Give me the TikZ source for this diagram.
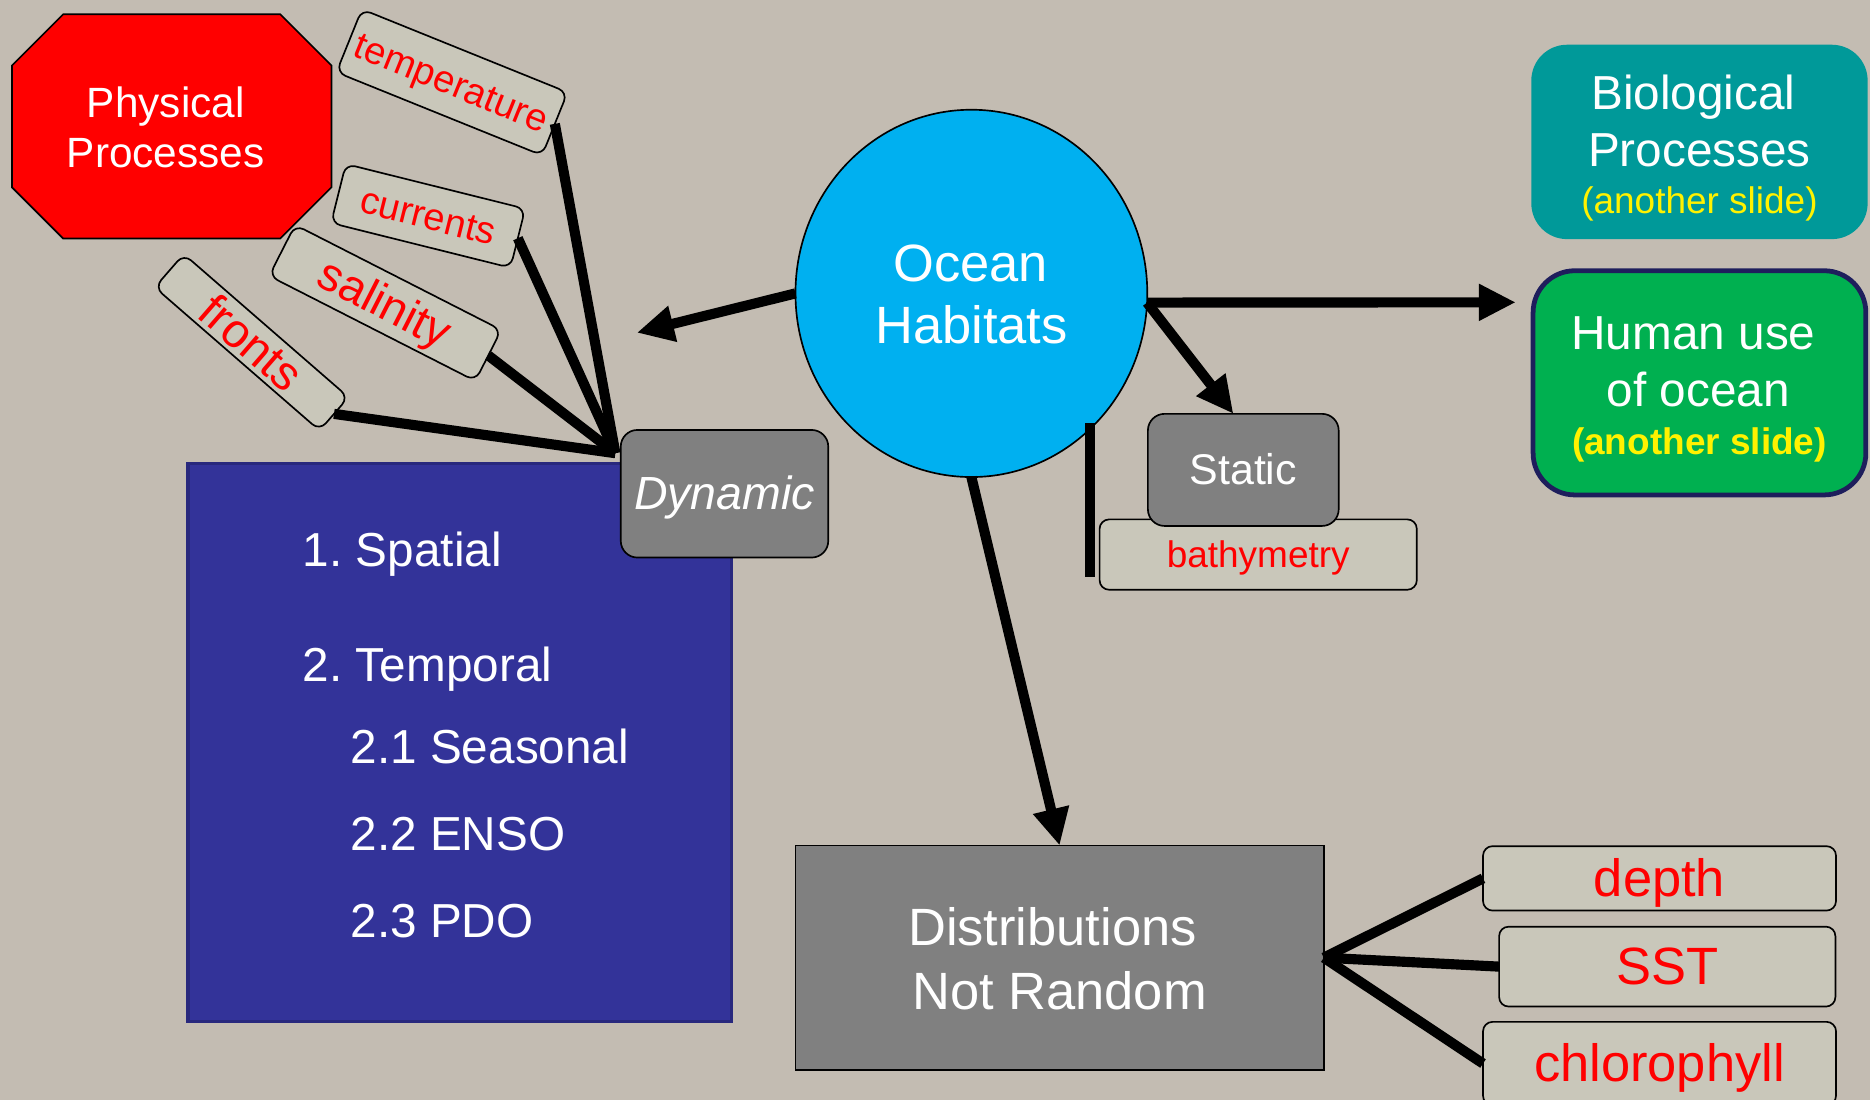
\documentclass[tikz,border=0pt]{standalone}
\usepackage{fontspec}
\setmainfont{Liberation Sans}
\usetikzlibrary{arrows.meta,shapes.geometric}
\frenchspacing

\definecolor{bgc}{RGB}{195,188,178}
\definecolor{tagfill}{RGB}{201,199,186}
\definecolor{slate}{RGB}{128,128,128}
\definecolor{navybox}{RGB}{51,51,153}
\definecolor{navyedge}{RGB}{40,40,125}
\definecolor{oceanblue}{RGB}{0,176,240}
\definecolor{tealbox}{RGB}{0,153,153}
\definecolor{greenbox}{RGB}{0,176,80}
\definecolor{greenedge}{RGB}{30,30,92}

\begin{document}
\begin{tikzpicture}[x=1pt,y=-1pt,
  every node/.style={inner sep=0pt, outer sep=0pt},
  fs/.style={font=\fontsize{#1}{#1}\selectfont, text height=#1*0.9pt, text depth=#1*0.21pt},
  tag/.style={draw=black, line width=1.4pt, fill=tagfill, rounded corners=8pt, text=red},
  greybox/.style={draw=black, line width=1.4pt, fill=slate, text=white},
  wtxt/.style={text=white},
  link/.style={line width=8.5pt},
  arr/.style={line width=8.5pt, -{Triangle[length=31pt,width=29pt]}}]

% canvas
\useasboundingbox (0,0) rectangle (1568,922);
\clip (0,0) rectangle (1568,922);
\fill[bgc] (0,0) rectangle (1568,922);

% physical processes octagon
\filldraw[fill=red, draw=black, line width=1.4pt]
  (53,12) -- (235,12) -- (278,55) -- (278,157) -- (235,200) -- (53,200) -- (10,157) -- (10,55) -- cycle;
\node[wtxt, fs=35.5] (phys1) at (139,86) {Physical};
\node[wtxt, fs=35.5] (phys2) at (139,128) {Processes};

% physical variables
\node[tag, rotate=-22, minimum width=186pt, minimum height=57pt, fs=32] (temp) at (379,69) {temperature};
\node[tag, rotate=-14, minimum width=155pt, minimum height=51pt, fs=32] (curr) at (359,181) {currents};
\node[tag, rotate=-27, minimum width=194pt, minimum height=48pt, fs=39] (sal) at (323,254) {salinity};
\node[tag, rotate=-41, minimum width=183pt, minimum height=37pt, font=\fontsize{40}{40}\selectfont] (fro) at (211,287) {fronts};

% dynamic / spatial-temporal panel
\node[fill=navybox, draw=navyedge, line width=3pt, minimum width=456pt, minimum height=468pt] (panel) at (385.5,622.5) {};
\node[wtxt, fs=40, anchor=west] (sp) at (254,461) {1. Spatial};
\node[wtxt, fs=40, anchor=west] (tm) at (254,558) {2. Temporal};
\node[wtxt, fs=40, anchor=west] (se) at (294,626) {2.1 Seasonal};
\node[wtxt, fs=40, anchor=west] (en) at (294,699) {2.2 ENSO};
\node[wtxt, fs=40, anchor=west] (pd) at (294,772) {2.3 PDO};

\coordinate (hub) at (516,380);
\draw[link] (temp.east) -- (hub);
\draw[link] (curr.east) -- (hub);
\draw[link] (sal.east) -- (hub);
\draw[link] (fro.east) -- (hub);

\node[greybox, rounded corners=14pt, minimum width=174pt, minimum height=107pt, fs=39,
      font=\fontsize{39}{39}\selectfont\itshape] (dyn) at (607.5,414) {Dynamic};

% ocean habitats hub
\node[ellipse, fill=oceanblue, draw=black, line width=1.4pt, minimum width=295pt, minimum height=308pt] (oh) at (814.5,246) {};
\node[wtxt, fs=44] (oh1) at (814,221) {Ocean};
\node[wtxt, fs=44] (oh2) at (814.5,273) {Habitats};

% static habitat
\node[tag, minimum width=266pt, minimum height=59pt, fs=31] (bath) at (1055,465) {bathymetry};
\node[greybox, rounded corners=14pt, minimum width=160pt, minimum height=94pt, fs=36] (stat) at (1042.5,394) {Static};
\coordinate (vtop) at (914,355);
\coordinate (vbot) at (914,484);
\draw[link] (vtop) -- (vbot);

% biological processes
\node[fill=tealbox, rounded corners=30pt, minimum width=282pt, minimum height=163pt] (bio) at (1425,119) {};
\node[wtxt, fs=40] (bio1) at (1420,78) {Biological};
\node[wtxt, fs=40] (bio2) at (1425,126) {Processes};
\node[text=yellow, fs=31] (bio3) at (1425,168) {(another slide)};

% human use
\node[fill=greenbox, draw=greenedge, line width=4pt, rounded corners=35pt, minimum width=279pt, minimum height=188pt] (hum) at (1425,321) {};
\node[wtxt, fs=40] (hum1) at (1420,279) {Human use};
\node[wtxt, fs=40] (hum2) at (1424,327) {of ocean};
\node[text=yellow, fs=31, font=\fontsize{31}{31}\selectfont\bfseries] (hum3) at (1425,370) {(another slide)};

% distributions
\node[greybox, minimum width=443pt, minimum height=188pt] (dist) at (888.5,803) {};
\node[wtxt, fs=44] (dist1) at (882.5,778) {Distributions};
\node[wtxt, fs=44] (dist2) at (888.5,831) {Not Random};

\node[tag, minimum width=296pt, minimum height=54pt, fs=44] (dep) at (1391.5,736.5) {depth};
\node[tag, minimum width=282pt, minimum height=67pt, fs=44] (sst) at (1398,810.5) {SST};
\node[tag, minimum width=296pt, minimum height=70pt, fs=44] (chl) at (1391.5,891.8) {chlorophyll};

\draw[link] (dist.east) -- (dep.west);
\draw[link] (dist.east) -- (sst.west);
\draw[link] (dist.east) -- (chl.west);

% arrows out of the hub
\coordinate (ltip) at (534,279);
\coordinate (humtip) at (1271,253.5);
\draw[arr] (oh.west) -- (ltip);
\draw[arr] (oh.-3) -- (humtip);
\draw[arr] (oh.-3) -- (stat.100);
\draw[arr] (oh.south) -- (dist.north);

\end{tikzpicture}
\end{document}
